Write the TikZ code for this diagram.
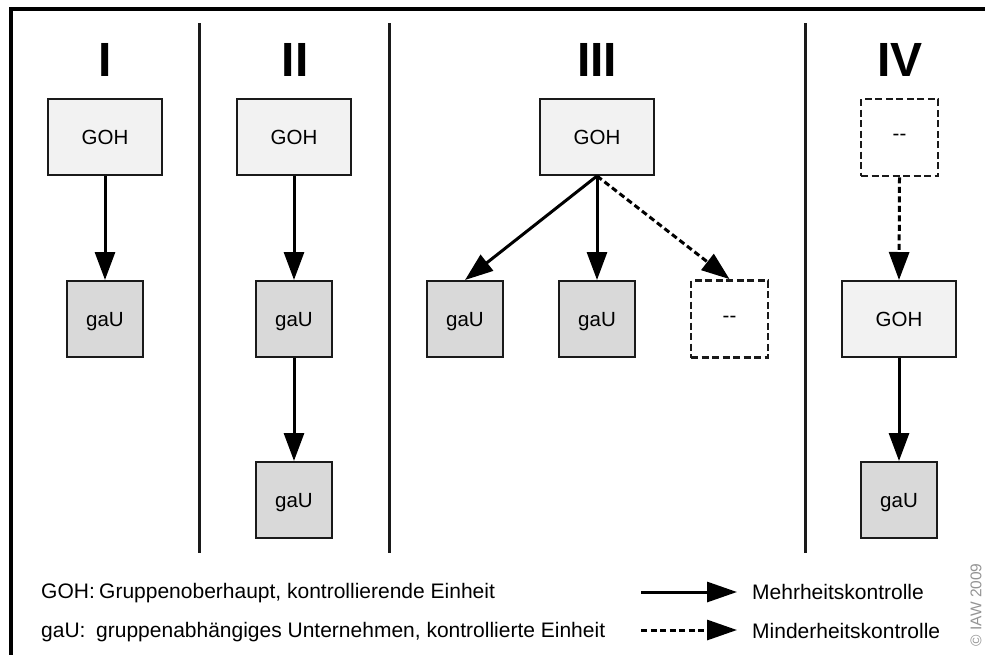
\documentclass[tikz,border=0pt]{standalone}
\usepackage{fontspec}
\setmainfont{Liberation Sans}
\usetikzlibrary{arrows.meta}
\definecolor{gohfill}{HTML}{F2F2F2}
\definecolor{gaufill}{HTML}{D9D9D9}
\definecolor{edge}{HTML}{1A1A1A}
\begin{document}
\begin{tikzpicture}[x=1pt,y=-1pt,
  boxbase/.style={draw=edge,line width=2pt,inner sep=0pt,text depth=0pt,
    font=\fontsize{20.5}{24}\selectfont},
  gohbox/.style={boxbase,fill=gohfill,minimum width=114pt,minimum height=76pt},
  gaubox/.style={boxbase,fill=gaufill,minimum width=76pt,minimum height=76pt},
  emptybox/.style={boxbase,fill=white,dash pattern=on 7pt off 3.5pt,line width=2.8pt,
    minimum width=77pt,minimum height=77pt},
  title/.style={font=\fontsize{48}{50}\selectfont\bfseries,inner sep=0pt},
  major/.style={line width=3pt,-{Triangle[length=28pt,width=20pt]}},
  minor/.style={major,dash pattern=on 6pt off 3.5pt},
  legl/.style={font=\fontsize{21}{24}\selectfont,inner sep=0pt,anchor=base west},
  legr/.style={font=\fontsize{21}{24}\selectfont,inner sep=0pt,anchor=base west},
  divider/.style={line width=3pt,draw=edge}]
\useasboundingbox (0,0) rectangle (985,654);
% frame
\draw[line width=4pt,line join=miter] (11.3,660) -- (11.3,9.3) -- (990,9.3);
% dividers
\draw[divider] (199.5,23) -- (199.5,553);
\draw[divider] (389,23) -- (389,553);
\draw[divider] (805,23) -- (805,553);
% titles
\node[title] (t1) at (105,59.5) {I};
\node[title] (t2) at (295,59.5) {II};
\node[title] (t3) at (597,59.5) {III};
\node[title] (t4) at (900,59.5) {IV};
% column I
\node[gohbox] (g1) at (105,137) {GOH};
\node[gaubox] (u1) at (105,319) {gaU};
\draw[major] (g1.south) -- (u1.north);
% column II
\node[gohbox] (g2) at (294,137) {GOH};
\node[gaubox] (u2a) at (294,319) {gaU};
\node[gaubox] (u2b) at (294,500) {gaU};
\draw[major] (g2.south) -- (u2a.north);
\draw[major] (u2a.south) -- (u2b.north);
% column III
\node[gohbox] (g3) at (597,137) {GOH};
\node[gaubox] (u3a) at (465,319) {gaU};
\node[gaubox] (u3b) at (597,319) {gaU};
\node[emptybox] (e3) at (729.5,319) {-{}-};
\draw[major] (g3.south) -- (u3a.north);
\draw[major] (g3.south) -- (u3b.north);
\draw[minor] (g3.south) -- (e3.north);
% column IV
\node[emptybox] (e4) at (899.5,137.5) {-{}-};
\node[gohbox] (g4) at (899,319) {GOH};
\node[gaubox] (u4) at (899,500) {gaU};
\draw[minor] (e4.south) -- (g4.north);
\draw[major] (g4.south) -- (u4.north);
% legend
\node[legl] (lk1) at (41,598.5) {GOH:};
\node[legl] (ld1) at (99,598.5) {Gruppenoberhaupt, kontrollierende Einheit};
\node[legl] (lk2) at (41,637.5) {gaU:};
\node[legl] (ld2) at (96,637.5) {gruppenabhängiges Unternehmen, kontrollierte Einheit};
\coordinate (a1s) at (641,592);
\coordinate (a1e) at (737,592);
\coordinate (a2s) at (641,630);
\coordinate (a2e) at (737,630);
\draw[line width=3pt,-{Triangle[length=30pt,width=20pt]}] (a1s) -- (a1e);
\draw[line width=3pt,dash pattern=on 6pt off 3.5pt,-{Triangle[length=30pt,width=20pt]}] (a2s) -- (a2e);
\node[legr] (lr1) at (752,599.5) {Mehrheitskontrolle};
\node[legr] (lr2) at (752,638) {Minderheitskontrolle};
% copyright
\node[font=\fontsize{15.5}{17}\selectfont,text=black!42,rotate=90,inner sep=0pt] (copy) at (976,605) {© IAW 2009};
\end{tikzpicture}
\end{document}
